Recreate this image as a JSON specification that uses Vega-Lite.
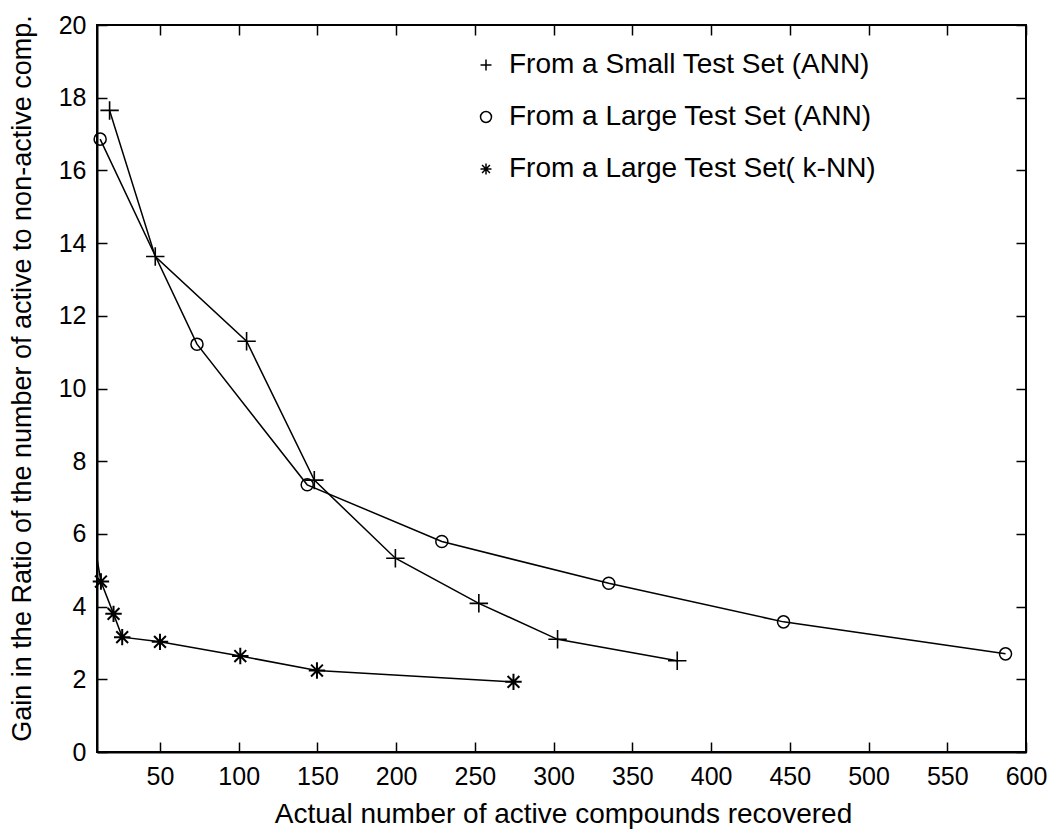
{
  "$schema": "https://vega.github.io/schema/vega-lite/v6.json",
  "width": 929,
  "height": 727,
  "autosize": {"type": "none"},
  "padding": {"left": 97, "top": 25, "right": 26, "bottom": 77},
  "background": "white",
  "config": {
    "view": {"stroke": "black", "strokeWidth": 2},
    "font": "Liberation Sans",
    "axis": {
      "domainColor": "black", "domainWidth": 2,
      "tickColor": "black", "tickWidth": 1.5, "tickSize": -10,
      "labelColor": "black", "labelFont": "Liberation Sans", "labelFontSize": 25,
      "labelFlush": false, "labelOverlap": false,
      "titleFont": "Liberation Sans", "titleFontSize": 27, "titleFontWeight": "normal", "titleColor": "black",
      "grid": false
    },
    "legend": {
      "labelFont": "Liberation Sans", "labelFontSize": 28, "labelColor": "black",
      "symbolSize": 120, "symbolStrokeColor": "black", "symbolStrokeWidth": 1.5,
      "symbolFillColor": "transparent", "rowPadding": 24, "labelOffset": 9, "labelLimit": 600
    }
  },
  "datasets": {
    "pts": [
      {"series": "From a Small Test Set (ANN)", "x": 18, "y": 17.65},
      {"series": "From a Small Test Set (ANN)", "x": 47, "y": 13.63},
      {"series": "From a Small Test Set (ANN)", "x": 105, "y": 11.3},
      {"series": "From a Small Test Set (ANN)", "x": 148, "y": 7.48},
      {"series": "From a Small Test Set (ANN)", "x": 199.5, "y": 5.33},
      {"series": "From a Small Test Set (ANN)", "x": 252.5, "y": 4.09},
      {"series": "From a Small Test Set (ANN)", "x": 302.5, "y": 3.1},
      {"series": "From a Small Test Set (ANN)", "x": 378.5, "y": 2.51},
      {"series": "From a Large Test Set (ANN)", "x": 12, "y": 16.86},
      {"series": "From a Large Test Set (ANN)", "x": 73.5, "y": 11.22},
      {"series": "From a Large Test Set (ANN)", "x": 143.5, "y": 7.35},
      {"series": "From a Large Test Set (ANN)", "x": 229, "y": 5.79},
      {"series": "From a Large Test Set (ANN)", "x": 335, "y": 4.64},
      {"series": "From a Large Test Set (ANN)", "x": 446, "y": 3.58},
      {"series": "From a Large Test Set (ANN)", "x": 587, "y": 2.7},
      {"series": "From a Large Test Set( k-NN)", "x": 5, "y": 6.6},
      {"series": "From a Large Test Set( k-NN)", "x": 12.5, "y": 4.69},
      {"series": "From a Large Test Set( k-NN)", "x": 20.5, "y": 3.8},
      {"series": "From a Large Test Set( k-NN)", "x": 26, "y": 3.16},
      {"series": "From a Large Test Set( k-NN)", "x": 50, "y": 3.03},
      {"series": "From a Large Test Set( k-NN)", "x": 101, "y": 2.64},
      {"series": "From a Large Test Set( k-NN)", "x": 149.7, "y": 2.24},
      {"series": "From a Large Test Set( k-NN)", "x": 274.5, "y": 1.93}
    ]
  },
  "layer": [
    {
      "data": {"name": "pts"},
      "encoding": {
        "x": {"field": "x", "type": "quantitative",
          "scale": {"domain": [10, 600], "nice": false, "zero": false},
          "axis": {"orient": "bottom", "values": [50,100,150,200,250,300,350,400,450,500,550,600],
            "title": "Actual number of active compounds recovered", "labelPadding": 22,
            "titleX": 466, "titleY": 70, "titleBaseline": "alphabetic", "titleAnchor": "middle", "titleFontSize": 28}},
        "y": {"field": "y", "type": "quantitative",
          "scale": {"domain": [0, 20], "nice": false, "zero": false},
          "axis": {"orient": "left", "values": [0,2,4,6,8,10,12,14,16,18,20],
            "title": "Gain in the Ratio of the number of active to non-active comp.", "labelPadding": 21,
            "titleX": -75, "titleY": 353, "titleAlign": "center", "titleBaseline": "middle", "titleAngle": -90}}
      },
      "layer": [
        {
          "mark": {"type": "line", "color": "black", "strokeWidth": 1.5, "clip": true},
          "encoding": {"detail": {"field": "series", "type": "nominal"}}
        },
        {
          "transform": [{"filter": "datum.series == 'From a Small Test Set (ANN)'"}],
          "mark": {"type": "point", "filled": false, "stroke": "black", "strokeWidth": 1.6, "opacity": 1, "size": 340},
          "encoding": {
            "shape": {"field": "series", "type": "nominal",
              "scale": {"domain": ["From a Small Test Set (ANN)", "From a Large Test Set (ANN)", "From a Large Test Set( k-NN)"],
                "range": ["M-1,0L1,0M0,-1L0,1", "circle", "M-1,0L1,0M0,-1L0,1M-0.72,-0.72L0.72,0.72M-0.72,0.72L0.72,-0.72"]},
              "legend": {"title": null, "orient": "none", "legendX": 375, "legendY": 26}}
          }
        },
        {
          "transform": [{"filter": "datum.series == 'From a Large Test Set (ANN)'"}],
          "mark": {"type": "point", "filled": false, "stroke": "black", "strokeWidth": 1.5, "opacity": 1, "size": 145},
          "encoding": {
            "shape": {"field": "series", "type": "nominal"}
          }
        },
        {
          "transform": [{"filter": "datum.series == 'From a Large Test Set( k-NN)' && datum.x >= 10"}],
          "mark": {"type": "point", "filled": false, "stroke": "black", "strokeWidth": 2, "opacity": 1, "size": 270},
          "encoding": {
            "shape": {"field": "series", "type": "nominal"}
          }
        }
      ]
    },
    {
      "data": {"name": "pts"},
      "mark": {"type": "point", "opacity": 0},
      "encoding": {
        "x": {"field": "x", "type": "quantitative",
          "scale": {"domain": [10, 600], "nice": false, "zero": false},
          "axis": {"orient": "top", "labels": false, "title": null, "domain": false,
            "values": [50,100,150,200,250,300,350,400,450,500,550,600]}},
        "y": {"field": "y", "type": "quantitative",
          "scale": {"domain": [0, 20], "nice": false, "zero": false},
          "axis": {"orient": "right", "labels": false, "title": null, "domain": false,
            "values": [0,2,4,6,8,10,12,14,16,18,20]}}
      }
    }
  ],
  "resolve": {"scale": {"x": "independent", "y": "independent"}}
}
